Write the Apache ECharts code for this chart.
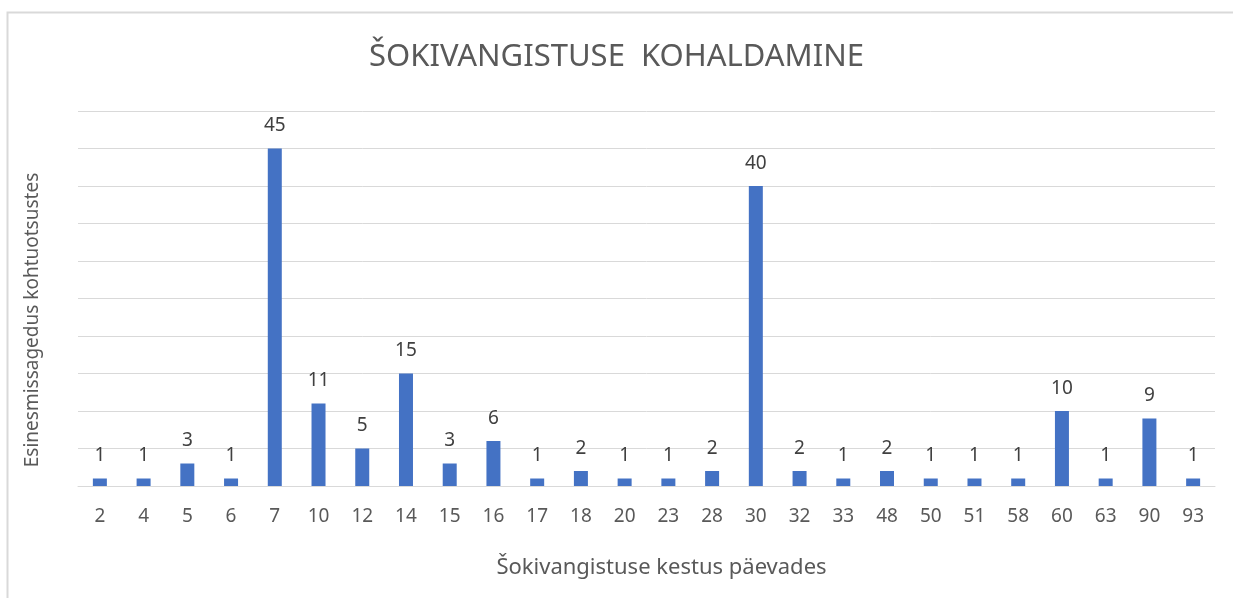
<!DOCTYPE html>
<html>
<head>
<meta charset="utf-8">
<script src="https://cdn.jsdelivr.net/npm/echarts@6/dist/echarts.min.js"></script>
<style>
  html, body { margin: 0; padding: 0; background: #fff; }
  #chart { width: 1233px; height: 598px; }
</style>
</head>
<body>
<div id="chart"></div>
<script>
// kestus päevades
var days = ['2', '4', '5', '6', '7', '10', '12', '14', '15', '16', '17', '18', '20',
            '23', '28', '30', '32', '33', '48', '50', '51', '58', '60', '63', '90', '93'];
// mitu korda esines
var counts = [1, 1, 3, 1, 45, 11, 5, 15, 3, 6, 1, 2, 1,
              1, 2, 40, 2, 1, 2, 1, 1, 1, 10, 1, 9, 1];

var font = 'Noto Sans';
var grey = '#595959';

var myChart = echarts.init(document.getElementById('chart'));
var option = {
    animation: false,
    backgroundColor: '#fff',
    title: {
        text: 'ŠOKIVANGISTUSE  KOHALDAMINE',
        left: 'center',
        top: 37,
        textStyle: { fontFamily: font, fontSize: 31, fontWeight: 'normal', color: grey }
    },
    grid: { left: 78, right: 18, top: 111, bottom: 112 },
    xAxis: {
        type: 'category',
        data: days,
        name: 'Šokivangistuse kestus päevades',
        nameLocation: 'middle',
        nameGap: 71,
        nameTextStyle: { fontFamily: font, fontSize: 22, color: grey, padding: [0, 0, 0, 30] },
        axisLine: { lineStyle: { color: '#d9d9d9', width: 1 } },
        axisTick: { show: false },
        axisLabel: { fontFamily: font, fontSize: 19, color: grey, margin: 21 }
    },
    yAxis: {
        type: 'value',
        min: 0,
        max: 50,
        interval: 5,
        axisLine: { show: false },
        axisTick: { show: false },
        axisLabel: { show: false },
        splitLine: { lineStyle: { color: '#d9d9d9', width: 1 } }
    },
    series: [{
        type: 'bar',
        data: counts,
        barWidth: 14,
        itemStyle: { color: '#4472c4' },
        label: {
            show: true,
            position: 'top',
            distance: 13,
            fontFamily: font,
            fontSize: 19,
            color: '#404040'
        }
    }],
    graphic: [{
        type: 'rect',
        shape: { x: 7.5, y: 12.5, width: 1240, height: 600 },
        style: { fill: null, stroke: '#d9d9d9', lineWidth: 2 },
        silent: true
    }, {
        type: 'text',
        x: 33,
        y: 320,
        rotation: Math.PI / 2,
        style: {
            text: 'Esinesmissagedus kohtuotsustes',
            fontFamily: font,
            fontSize: 19,
            fill: grey,
            align: 'center',
            verticalAlign: 'middle'
        }
    }]
};
myChart.setOption(option);
</script>
</body>
</html>
